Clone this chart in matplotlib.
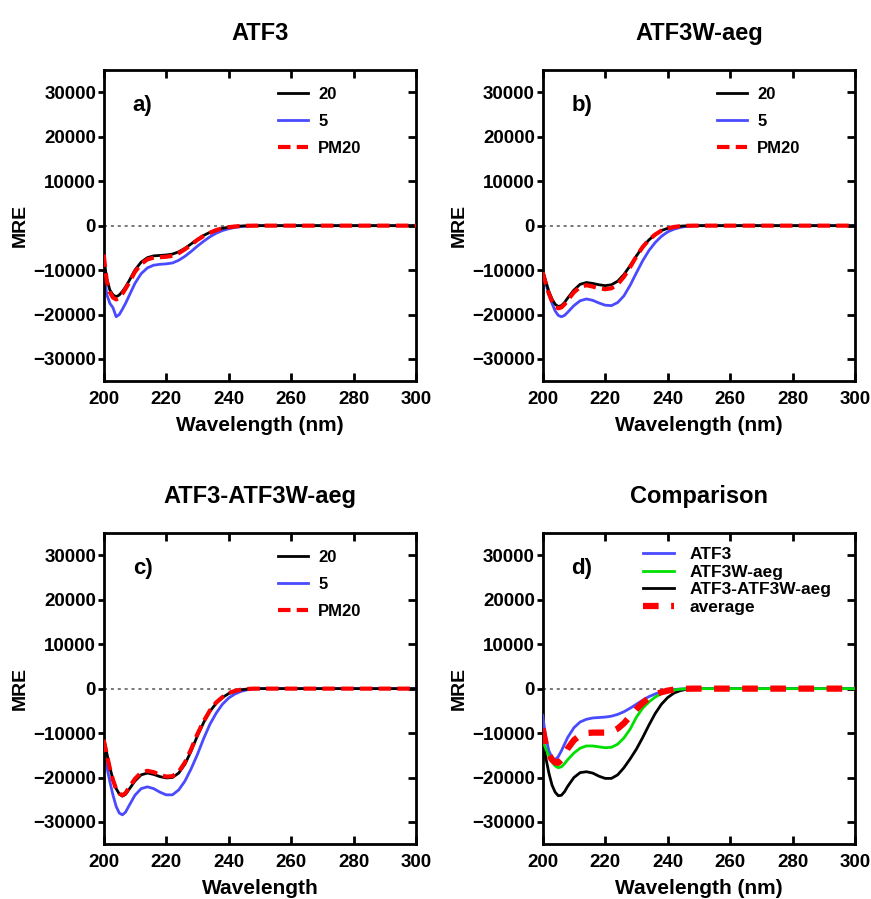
import numpy as np
import matplotlib
matplotlib.use('Agg')
import matplotlib.pyplot as plt

plt.rcParams['font.family'] = ['Liberation Sans', 'DejaVu Sans']

# wavelength grid (nm)
wl = [200, 201, 202, 203, 204, 205, 206, 207, 208, 210, 212, 214, 216, 218, 220,
      222, 224, 226, 228, 230, 232, 234, 236, 238, 240, 242, 244, 246, 248, 250,
      260, 270, 280, 290, 300]
tail = [0, 0, 0, 0, 0, 0]  # 250..300

# panel a) ATF3
a_20 = [-7000, -12000, -14500, -15600, -16000, -15600, -14800, -13800, -12600, -10000,
        -8200, -7200, -6800, -6700, -6600, -6400, -5900, -5100, -4100, -3100, -2200,
        -1500, -1000, -600, -350, -180, -80, -30, 0] + tail
a_5 = [-10000, -15500, -17500, -18500, -20500, -20000, -18800, -17500, -16000, -13000,
       -10800, -9500, -8900, -8700, -8600, -8400, -7800, -6900, -5800, -4600, -3500,
       -2500, -1700, -1100, -700, -400, -200, -80, -20] + tail
a_pm20 = [-6500, -12500, -15000, -16200, -16600, -16200, -15300, -14200, -13000, -10400,
          -8600, -7600, -7200, -7100, -7000, -6800, -6200, -5300, -4300, -3200, -2300,
          -1600, -1000, -600, -350, -180, -80, -30, 0] + tail

# panel b) ATF3W-aeg
b_20 = [-10000, -12500, -14800, -16500, -17700, -18200, -18000, -17300, -16300, -14500,
        -13200, -12800, -13000, -13300, -13500, -13300, -12500, -11000, -9000, -6800,
        -4800, -3200, -2000, -1100, -600, -300, -120, -40, 0] + tail
b_5 = [-10000, -13000, -15500, -17500, -19200, -20200, -20500, -20200, -19500, -18000,
       -16900, -16500, -16800, -17400, -17900, -18000, -17300, -15800, -13400, -10600,
       -7900, -5600, -3800, -2400, -1400, -800, -400, -150, -50] + tail
b_pm20 = [-10500, -13000, -15300, -17000, -18200, -18600, -18400, -17700, -16800, -15000,
          -13800, -13400, -13700, -14100, -14300, -14100, -13200, -11500, -9300, -6900,
          -4800, -3200, -2000, -1100, -600, -300, -120, -40, 0] + tail

# panel c) ATF3-ATF3W-aeg
c_20 = [-11000, -14500, -17800, -20500, -22500, -23700, -24200, -23800, -22800, -20800,
        -19400, -19000, -19300, -19800, -20100, -20000, -19000, -17000, -14000, -10600,
        -7600, -5100, -3300, -2000, -1100, -550, -250, -80, 0] + tail
c_5 = [-13300, -17500, -21000, -24000, -26500, -28000, -28400, -27800, -26500, -24000,
       -22500, -22100, -22500, -23300, -23900, -23900, -22800, -20800, -18000, -14800,
       -11200, -8000, -5500, -3500, -2100, -1200, -600, -250, -80] + tail
c_pm20 = [-11500, -14800, -18000, -20600, -22600, -23600, -24000, -23500, -22400, -20300,
          -18900, -18500, -18800, -19400, -19800, -19700, -18700, -16600, -13600, -10200,
          -7300, -4900, -3100, -1900, -1000, -500, -220, -70, 0] + tail

# panel d) comparison
d_atf3 = [-6000, -11000, -14000, -15500, -16000, -15300, -14000, -12500, -11000, -8800,
          -7500, -6900, -6600, -6500, -6400, -6200, -5800, -5200, -4400, -3500, -2600,
          -1800, -1200, -700, -400, -200, -80, -30, 0] + tail
d_atf3w = [-11700, -13500, -15200, -16500, -17400, -17800, -17600, -16900, -16000, -14500,
           -13400, -12900, -12900, -13100, -13300, -13200, -12500, -11100, -9100, -6400,
           -4400, -3000, -1900, -1100, -600, -300, -120, -40, 0] + tail
d_hetero = [-11700, -15500, -19000, -21700, -23300, -24100, -24000, -23200, -22000, -20000,
            -18900, -18700, -19000, -19700, -20200, -20200, -19400, -17800, -15800, -13600,
            -11000, -8200, -5600, -3500, -2000, -1000, -450, -150, -30] + tail
d_avg = [-9000, -12500, -14800, -16000, -16600, -16700, -16000, -14800, -13500, -11600,
         -10500, -10000, -9900, -9900, -9900, -9700, -9000, -7800, -6200, -4600, -3200,
         -2100, -1300, -800, -450, -200, -80, -30, 0] + tail

yticks = [-30000, -20000, -10000, 0, 10000, 20000, 30000]
xticks = [200, 220, 240, 260, 280, 300]

fig = plt.figure(figsize=(8.71, 8.99), dpi=100)

W = 0.359
H = 0.346
pos = {'a': [0.119, 0.576, W, H], 'b': [0.623, 0.576, W, H],
       'c': [0.119, 0.061, W, H], 'd': [0.623, 0.061, W, H]}


def setup(ax, title, letter, xlabel):
    ax.axhline(0, color='#555555', lw=1.1, ls=(0, (2, 2.5)), zorder=1)
    ax.set_xlim(200, 300)
    ax.set_ylim(-35000, 35000)
    ax.set_xticks(xticks)
    ax.set_yticks(yticks)
    for s in ax.spines.values():
        s.set_linewidth(2)
    ax.tick_params(axis='y', left=True, right=True, width=2, length=4.5,
                   labelsize=13.5, direction='out', pad=1)
    ax.tick_params(axis='x', top=True, bottom=True, direction='in', width=2,
                   length=6, labelsize=13.5, pad=7)
    for lab in ax.get_xticklabels() + ax.get_yticklabels():
        lab.set_fontweight('bold')
    # right ticks point inward and a bit longer
    for t in ax.yaxis.get_major_ticks():
        t.tick2line.set_marker(matplotlib.lines.TICKLEFT)
        t.tick2line.set_markersize(6)
    ax.set_title(title, fontsize=17, fontweight='bold', pad=22)
    ax.set_ylabel('MRE', fontsize=14, fontweight='bold', labelpad=3)
    ax.set_xlabel(xlabel, fontsize=15, fontweight='bold', labelpad=6)
    ax.text(0.125, 0.885, letter, transform=ax.transAxes, fontsize=16,
            fontweight='bold', ha='center', va='center')


def conc_panel(key, title, letter, xlabel, y20, y5, ypm):
    ax = fig.add_axes(pos[key])
    ax.plot(wl, y20, color='black', lw=2, label='20', zorder=3)
    ax.plot(wl, y5, color='#4a4aff', lw=2, label='5', zorder=2)
    ax.plot(wl, ypm, color='#ff0000', lw=3, ls=(0, (3, 1.5)), label='PM20', zorder=4)
    setup(ax, title, letter, xlabel)
    ax.legend(loc='upper left', bbox_to_anchor=(0.51, 0.995), frameon=False,
              handlelength=1.8, handletextpad=0.6, labelspacing=0.72,
              prop={'weight': 'bold', 'size': 12})
    return ax


conc_panel('a', 'ATF3', 'a)', 'Wavelength (nm)', a_20, a_5, a_pm20)
conc_panel('b', 'ATF3W-aeg', 'b)', 'Wavelength (nm)', b_20, b_5, b_pm20)
conc_panel('c', 'ATF3-ATF3W-aeg', 'c)', 'Wavelength', c_20, c_5, c_pm20)

ax = fig.add_axes(pos['d'])
ax.plot(wl, d_atf3, color='#4a4aff', lw=2, label='ATF3', zorder=3)
ax.plot(wl, d_atf3w, color='#00e000', lw=2, label='ATF3W-aeg', zorder=3)
ax.plot(wl, d_hetero, color='black', lw=2, label='ATF3-ATF3W-aeg', zorder=2)
ax.plot(wl, d_avg, color='#ff0000', lw=4.5, ls=(0, (2.5, 2)), label='average', zorder=4)
setup(ax, 'Comparison', 'd)', 'Wavelength (nm)')
ax.legend(loc='upper left', bbox_to_anchor=(0.27, 1.005), frameon=False,
          handlelength=1.8, handletextpad=0.9, labelspacing=0.14,
          prop={'weight': 'bold', 'size': 12.5})

fig.savefig('out.png', dpi=100)
